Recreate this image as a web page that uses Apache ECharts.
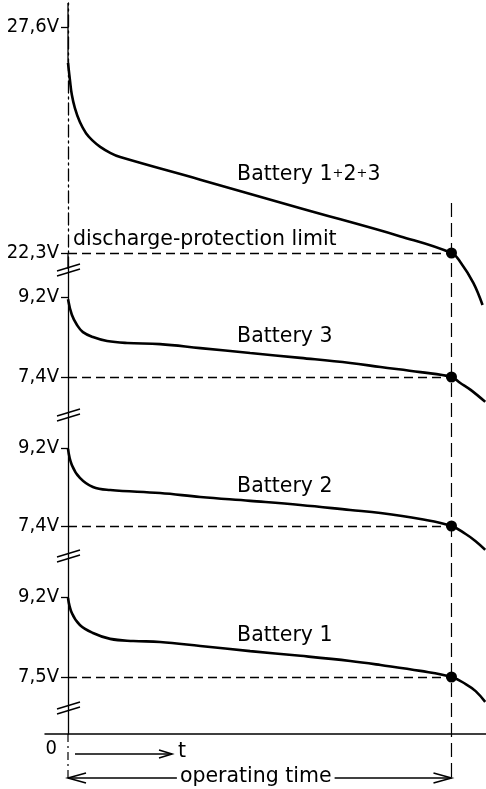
<!DOCTYPE html>
<html>
<head>
<meta charset="utf-8">
<script src="https://cdn.jsdelivr.net/npm/echarts@6/dist/echarts.min.js"></script>
<style>
  html, body { margin: 0; padding: 0; background: #fff; }
  #chart { width: 486px; height: 789px; }
</style>
</head>
<body>
<div id="chart"></div>
<script>
// Discharge curves; time is given in % of the operating time (100 = end of operating time)
const timePack = [0, 0.5, 1.0, 1.8, 3.1, 4.7, 6.5, 8.4, 11.0, 13.6, 34.5, 60.6, 86.7, 100, 102.3, 105.7, 108.1];
const voltPack = [26.76, 26.36, 26.01, 25.70, 25.37, 25.11, 24.93, 24.79, 24.65, 24.55, 24.02, 23.35, 22.69, 22.3, 22.09, 21.60, 21.08];

const timeBat3 = [0, 1.0, 2.35, 3.9, 6.5, 10.2, 15.4, 24.0, 34.5, 47.5, 60.6, 73.6, 81.5, 91.9, 100, 102.3, 105.0, 108.8];
const voltBat3 = [9.15, 8.80, 8.57, 8.41, 8.30, 8.21, 8.165, 8.14, 8.05, 7.94, 7.83, 7.715, 7.625, 7.51, 7.40, 7.265, 7.11, 6.84];

const timeBat2 = [0, 1.0, 3.1, 6.5, 11.0, 24.0, 34.5, 47.5, 60.6, 73.6, 81.5, 91.9, 100, 103.7, 106.3, 108.8];
const voltBat2 = [9.18, 8.81, 8.51, 8.30, 8.23, 8.16, 8.07, 7.98, 7.885, 7.77, 7.70, 7.56, 7.40, 7.215, 7.05, 6.85];

const timeBat1 = [0, 1.0, 3.1, 6.5, 11.0, 17.0, 24.0, 34.5, 47.5, 60.6, 73.6, 81.5, 91.9, 100, 103.7, 106.3, 108.8];
const voltBat1 = [9.18, 8.86, 8.605, 8.435, 8.31, 8.265, 8.245, 8.16, 8.05, 7.95, 7.84, 7.755, 7.63, 7.50, 7.35, 7.20, 6.97];

const limitVolts = [22.3, 7.4, 7.4, 7.5];
const tickVolts = [[27.6, 22.3], [9.2, 7.4], [9.2, 7.4], [9.2, 7.5]];
const curveNames = ['Battery 1+2+3', 'Battery 3', 'Battery 2', 'Battery 1'];
const limitText = 'discharge-protection limit';
const originLabel = '0';
const timeLabel = 't';
const operatingLabel = 'operating time';
const tEnd = 100;

// ---- layout ----
const FONT = "'DejaVu Sans', 'Liberation Sans', sans-serif";
const AXIS_FONT = "'DejaVu Sans Condensed', 'DejaVu Sans', sans-serif";
// voltage panels start at the time origin; the time axis line reaches further left
const PANEL_LEFT = 68, BASE_LEFT = 45;
const X_MAX = 109;
const X_MIN_BASE = -X_MAX * (PANEL_LEFT - BASE_LEFT) / (486 - PANEL_LEFT);
const panels = [
  { top: 3,   bottom: 269, min: 21.925, max: 28.163 },
  { top: 269, bottom: 414, min: 6.5675, max: 9.830 },
  { top: 414, bottom: 555, min: 6.7308, max: 9.9846 },
  { top: 555, bottom: 707, min: 6.8625, max: 10.0925 }
];
const base = { top: 707, bottom: 734 };
const labelAnchor = [[44.1, 24.13], [44.1, 8.30], [44.1, 8.30], [44.1, 8.371]];
const limitTextAnchor = [1.3, 22.605];
const dashTopVolt = 23.47;

const curves = [[timePack, voltPack], [timeBat3, voltBat3], [timeBat2, voltBat2], [timeBat1, voltBat1]];
const zip = (a, b) => a.map((t, i) => [t, b[i]]);
const fmtVolt = v => v.toFixed(1).replace('.', ',') + 'V';
const BLACK = '#000';

const grid = panels.map(p => ({
  left: PANEL_LEFT, right: 0, top: p.top, height: p.bottom - p.top,
  containLabel: false, outerBoundsMode: 'none'
}));
grid.push({ left: BASE_LEFT, right: 0, top: base.top, height: base.bottom - base.top, containLabel: false, outerBoundsMode: 'none' });

const xAxis = grid.map((g, i) => ({
  gridIndex: i, type: 'value', min: i === 4 ? X_MIN_BASE : 0, max: X_MAX,
  axisLine: { show: i === 4, onZero: false, lineStyle: { color: BLACK, width: 1.5 } },
  axisTick: { show: false },
  splitLine: { show: false },
  axisLabel: i === 4 ? {
    show: true, customValues: [0], formatter: () => originLabel,
    align: 'right', padding: [0, 11, 0, 0], margin: 5,
    color: BLACK, fontSize: 20, fontFamily: AXIS_FONT
  } : { show: false }
}));

const yAxis = panels.map((p, i) => ({
  gridIndex: i, type: 'value', min: p.min, max: p.max,
  axisLine: { show: true, onZero: false, lineStyle: { color: BLACK, width: 1.3, type: i === 0 ? [12, 4, 2, 4] : 'solid' } },
  axisTick: { show: true, customValues: tickVolts[i], length: 7, lineStyle: { color: BLACK, width: 1.3 } },
  axisLabel: { show: true, customValues: tickVolts[i], formatter: fmtVolt, margin: 9, color: BLACK, fontSize: 20, fontFamily: AXIS_FONT },
  splitLine: { show: false }
}));
yAxis.push({
  gridIndex: 4, type: 'value', min: 0, max: 1,
  axisLine: { show: true, onZero: true, lineStyle: { color: BLACK, width: 1.3 } },
  axisTick: { show: false }, axisLabel: { show: false }, splitLine: { show: false }
});

const textStyle = { color: BLACK, fontSize: 20.5, fontFamily: FONT };

const series = [];
curves.forEach(([t, v], i) => {
  const marks = [{
    coord: labelAnchor[i], symbol: 'circle', symbolSize: 0,
    label: Object.assign({
      show: true, position: 'right', distance: 0,
      formatter: i === 0 ? '{a|Battery 1}{p|+}{a|2}{p|+}{a|3}' : curveNames[i],
      rich: i === 0 ? {
        a: { color: BLACK, fontSize: 20.5, fontFamily: FONT },
        p: { color: BLACK, fontSize: 13, fontFamily: FONT, verticalAlign: 'middle', padding: [0, 0, 2, 0] }
      } : undefined
    }, textStyle)
  }];
  if (i === 0) {
    marks.push({
      coord: limitTextAnchor, symbol: 'circle', symbolSize: 0,
      label: Object.assign({ show: true, position: 'right', distance: 0, formatter: limitText }, textStyle)
    });
  }
  series.push({
    name: curveNames[i], type: 'line', xAxisIndex: i, yAxisIndex: i,
    data: zip(t, v), showSymbol: false, clip: false,
    smooth: 0.4,
    lineStyle: { color: BLACK, width: 2.6 },
    silent: true,
    markLine: {
      silent: true, symbol: 'none', label: { show: false },
      lineStyle: { color: BLACK, width: 1.3, type: [9, 5] },
      data: [[{ coord: [0, limitVolts[i]] }, { coord: [tEnd, limitVolts[i]] }]]
    },
    markPoint: { silent: true, data: marks }
  });
  series.push({
    type: 'scatter', xAxisIndex: i, yAxisIndex: i, z: 5,
    data: [[tEnd, limitVolts[i]]], symbolSize: 11,
    itemStyle: { color: BLACK, opacity: 1 }, silent: true
  });
});

const chart = echarts.init(document.getElementById('chart'), null, { renderer: 'canvas' });
chart.setOption({ animation: false, backgroundColor: '#fff', grid, xAxis, yAxis, series });

// ---- annotations: axis breaks, end-of-operation line, time arrows ----
const px = (g, p) => chart.convertToPixel({ gridIndex: g }, p);
const x0 = px(0, [0, panels[0].max])[0];
const xEnd = px(0, [tEnd, panels[0].max])[0];
const baseY = base.bottom;
const tArrowY = baseY + 20;
const opArrowY = baseY + 44;
const lineEl = (x1, y1, x2, y2, style) => ({
  type: 'line', silent: true, z: 10,
  shape: { x1, y1, x2, y2 },
  style: Object.assign({ stroke: BLACK, lineWidth: 1.3 }, style || {})
});
const headEl = (tipX, y, dir, len, half) => ({
  type: 'polyline', silent: true, z: 12,
  shape: { points: [[tipX - dir * len, y - half], [tipX, y], [tipX - dir * len, y + half]] },
  style: { stroke: BLACK, fill: null, lineWidth: 1.6 }
});

const g = [];
// solid upper and lower stretches of the pack voltage axis
const packStartY = px(0, [0, voltPack[0]])[1];
const packLimitY = px(0, [0, limitVolts[0]])[1];
g.push(lineEl(x0, panels[0].top, x0, packStartY));
g.push(lineEl(x0, packLimitY, x0, panels[0].bottom));
// axis breaks between the panels
[panels[0].bottom, panels[1].bottom, panels[2].bottom, panels[3].bottom].forEach(yc => {
  g.push(lineEl(x0 - 11, yc + 2, x0 + 12, yc - 5, { lineWidth: 1.5 }));
  g.push(lineEl(x0 - 11, yc + 7, x0 + 12, yc, { lineWidth: 1.5 }));
});
// end of operating time
const dashTopY = px(0, [tEnd, dashTopVolt])[1];
g.push(lineEl(xEnd, dashTopY, xEnd, opArrowY, { lineWidth: 1.2, lineDash: [14, 6] }));
// axis continuation below the time axis
g.push(lineEl(x0, baseY, x0, opArrowY, { lineWidth: 1.2, lineDash: [8, 4, 2, 4] }));
// time direction arrow
g.push(lineEl(x0 + 7, tArrowY, x0 + 104, tArrowY, { lineWidth: 1.6 }));
g.push(headEl(x0 + 104, tArrowY, 1, 13, 4));
g.push({ type: 'text', silent: true, z: 12, style: { x: x0 + 110, y: tArrowY - 2, text: timeLabel, fill: BLACK, font: '20.5px ' + FONT, verticalAlign: 'middle', align: 'left' } });
// operating time span
g.push(lineEl(x0, opArrowY, xEnd, opArrowY, { lineWidth: 1.6 }));
g.push(headEl(x0, opArrowY, -1, 18, 5));
g.push(headEl(xEnd, opArrowY, 1, 18, 5));
g.push({ type: 'text', silent: true, z: 12, style: {
  x: (x0 + xEnd) / 2 - 4, y: opArrowY - 1, text: operatingLabel, fill: BLACK,
  font: '20.5px ' + FONT, align: 'center', verticalAlign: 'middle',
  backgroundColor: '#fff', padding: [0, 3, 0, 3]
} });

chart.setOption({ graphic: { elements: g } });
</script>
</body>
</html>
